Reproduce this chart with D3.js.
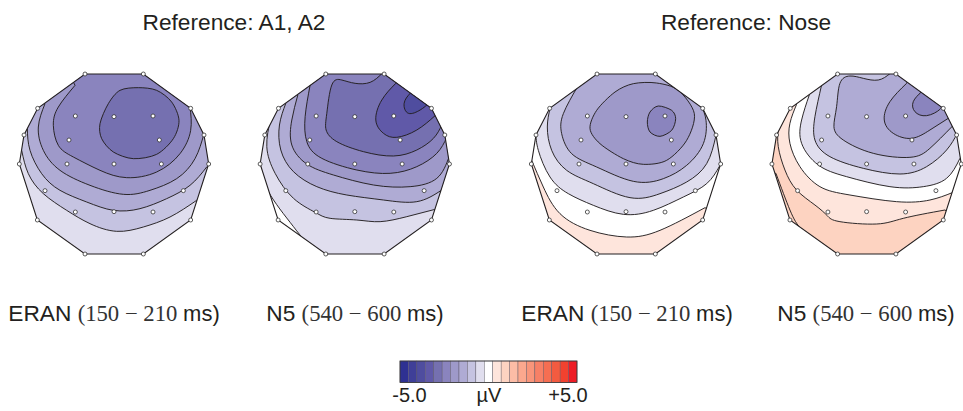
<!DOCTYPE html>
<html><head><meta charset="utf-8">
<script src="https://cdn.jsdelivr.net/npm/d3@7"></script>
<style>html,body{margin:0;padding:0;background:#fff}svg{display:block}</style>
</head><body><svg id="c" width="963" height="411"></svg>
<script>
// Colour legend: 21 classes from -5.0 to +5.0 uV
const legendColors = ["#2e3192","#3f3f98","#4f4d9f","#6059a8","#7570b0","#8a84be","#9e99c9","#afabd4","#c5c3e1","#e0deee","#ffffff","#fee5dc","#fdd3c1","#fcbca6","#fca88e","#f9957a","#f78066","#f66e52","#f35b40","#f1422f","#ee1c25"];
const legendLabels = ["-5.0","\u00b5V","+5.0"];
const titles = ["Reference: A1, A2","Reference: Nose"];
const mapNames = ["ERAN","N5","ERAN","N5"];
const mapTimes = ["(150 \u2212 210","(540 \u2212 600","(150 \u2212 210","(540 \u2212 600"];

// Electrode positions in head coordinates
const electrodes = [[-87,-270],[88,-270],[-229,-167],[-116,-144],[0,-142],[117,-144],[230,-167],[-270,-87],[-135,-72],[136,-72],[270,-87],[-284,0],[-141,0],[0,0],[142,0],[284,0],[-207,80],[208,80],[-230,168],[-116,144],[0,143],[117,144],[230,168],[-87,270],[88,270]];
const headOutline = [[-87,-270],[88,-270],[230,-167],[270,-87],[284,0],[230,168],[88,270],[-87,270],[-230,168],[-284,0],[-270,-87],[-229,-167]];

// Isopotential contours (origin = head centre in the reading grid)
const origins = [[342,341],[314,342],[348,341],[350,342]];
const baseLevels = [-0.5, 0, 0.5, 1];
const contourLevels1 = [-1,-1.5,-2,-2.5,-3];
const contours1 = [
 [[65,300],[85,370],[130,430],[200,480],[270,520],[350,543],[430,530],[510,500],[590,450]],
 [[82,235],[90,300],[125,370],[180,420],[260,455],[340,480],[420,475],[500,445],[570,405],[620,350]],
 [[135,160],[115,230],[130,300],[180,360],[270,405],[370,432],[450,420],[530,385],[585,325],[612,250]],
 [[225,105],[175,170],[160,225],[175,285],[220,320],[300,360],[380,382],[470,365],[540,310],[572,240],[570,170]],
 [[415,112],[360,120],[325,160],[300,220],[305,265],[340,305],[400,325],[470,312],[520,265],[537,210],[515,155],[470,120],[415,112]]
];
const contourLevels2 = [-0.5,-1,-1.5,-2,-2.5,-3,-3.5,-4];
const contours2 = [
 [[30,340],[55,425],[130,530],[225,620],[420,650],[650,500]],
 [[62,205],[50,290],[75,370],[130,445],[195,487],[240,505],[320,510],[390,515],[470,500],[555,478]],
 [[107,160],[88,225],[92,300],[130,365],[200,410],[290,435],[400,450],[500,455],[575,420]],
 [[143,135],[125,210],[125,285],[170,342],[250,375],[370,405],[480,410],[560,385],[597,320]],
 [[180,105],[165,200],[170,275],[215,325],[320,360],[420,370],[500,350],[560,310],[590,262]],
 [[395,71],[360,97],[315,100],[275,90],[245,105],[230,190],[228,240],[260,275],[340,305],[430,318],[500,300],[550,265],[575,225]],
 [[437,100],[395,150],[377,210],[400,250],[440,262],[500,240],[555,197]],
 [[480,130],[462,160],[475,190],[510,180],[530,165]]
];
const contourLevels3 = [0,-0.5,-1,-1.5,-2,-2.5];
const contours3 = [
 [[65,330],[100,410],[150,490],[240,540],[350,560],[450,540],[585,472]],
 [[78,250],[85,300],[120,380],[175,430],[250,465],[340,492],[430,480],[520,440],[590,400],[630,345]],
 [[120,175],[112,230],[125,300],[170,360],[250,400],[360,442],[450,430],[530,395],[590,340],[618,255]],
 [[205,105],[160,190],[155,250],[185,310],[260,350],[370,393],[460,385],[530,345],[580,280],[588,210],[575,170]],
 [[505,120],[440,98],[370,100],[315,125],[260,180],[240,235],[270,280],[340,325],[400,342],[470,330],[530,270],[553,190],[505,120]],
 [[445,167],[420,185],[412,215],[420,245],[450,258],[485,240],[497,205],[485,180],[445,167]]
];
const contourLevels4 = [1,0.5,0,-0.5,-1,-1.5,-2,-2.5];
const contours4 = [
 [[78,370],[120,480],[160,545],[262,625],[440,650],[650,500]],
 [[85,235],[85,290],[105,360],[140,420],[195,465],[232,497],[270,515],[380,522],[460,505],[585,480]],
 [[140,163],[120,220],[120,280],[150,350],[210,410],[300,435],[440,455],[540,450],[607,428]],
 [[178,135],[155,210],[155,280],[205,345],[290,380],[420,410],[520,410],[590,385],[630,325]],
 [[215,105],[195,200],[195,270],[240,320],[340,355],[450,372],[530,350],[590,300],[622,250]],
 [[420,71],[385,90],[340,85],[300,78],[270,100],[260,170],[252,230],[280,270],[370,310],[480,322],[540,295],[608,228]],
 [[470,100],[420,155],[403,210],[430,250],[485,265],[540,240],[595,205]],
 [[515,125],[490,155],[495,185],[530,197],[570,178],[572,160]]
];
const allContours = [contours1,contours2,contours3,contours4];
const allLevels = [contourLevels1,contourLevels2,contourLevels3,contourLevels4];

// Layout
const mapCx = [114,354.8,626,866.6], mapCy = 164;
const titleX = [234,746], titleY = 30;
const labelX = [114,355,627,866], labelY = 321;

const color = d3.scaleQuantize().domain([-5.25,5.25]).range(legendColors);
const svg = d3.select("#c");
const sans = "'Liberation Sans',Arial,sans-serif", serif = "'Liberation Serif',serif";
const ink = "#231f20";

svg.selectAll("text.title").data(titles).join("text").attr("class","title")
  .attr("x",(d,i)=>titleX[i]).attr("y",titleY).attr("text-anchor","middle")
  .attr("font-family",sans).attr("font-size",22.7).attr("fill",ink).text(d=>d);

allContours.forEach((contours,m)=>{
  const [ox,oy] = origins[m];
  const sx = d3.scaleLinear().domain([-300,300]).range([mapCx[m]-100,mapCx[m]+100]);
  const sy = d3.scaleLinear().domain([-300,300]).range([mapCy-100,mapCy+100]);
  const hx = d=>sx(d[0]), hy = d=>sy(d[1]);
  const g = svg.append("g");
  const outlinePath = d3.line().x(hx).y(hy).curve(d3.curveLinearClosed)(headOutline);
  g.append("clipPath").attr("id","clip"+m).append("path").attr("d",outlinePath);
  const body = g.append("g").attr("clip-path",`url(#clip${m})`);
  // base level; map 2's base is its first contour, so the sliver stays white
  body.append("path").attr("d",outlinePath).attr("fill",color(baseLevels[m]));
  const openLine = d3.line().x(d=>sx(d[0]-ox)).y(d=>sy(d[1]-oy)).curve(d3.curveNatural);
  const closedLine = d3.line().x(d=>sx(d[0]-ox)).y(d=>sy(d[1]-oy)).curve(d3.curveCardinalClosed.tension(0.1));
  contours.forEach((pts,k)=>{
    const first = pts[0], last = pts[pts.length-1];
    const closed = first[0]===last[0] && first[1]===last[1];
    let dstr;
    if(closed){ dstr = closedLine(pts.slice(0,-1)); }
    else{
      const out = p=>{const x=p[0]-ox,y=p[1]-oy; return [sx(x*2.2),sy(y*2.2)];};
      const a = out(first), b = out(last);
      dstr = openLine(pts)+`L${b[0]},${b[1]}L${sx(900)},${sy(-900)}L${sx(-900)},${sy(-900)}L${a[0]},${a[1]}Z`;
    }
    body.append("path").attr("d",dstr).attr("fill",color(allLevels[m][k]))
      .attr("stroke",ink).attr("stroke-width",0.95).attr("stroke-linejoin","round");
  });
  g.append("path").attr("d",outlinePath).attr("fill","none").attr("stroke",ink).attr("stroke-width",1.1);
  g.selectAll("circle").data(electrodes).join("circle")
    .attr("cx",hx).attr("cy",hy).attr("r",2).attr("fill","#fff").attr("stroke","#333").attr("stroke-width",0.8);
});

mapNames.forEach((n,i)=>{
  const t = svg.append("text").attr("x",labelX[i]).attr("y",labelY).attr("text-anchor","middle")
    .attr("font-size",22.7).attr("fill",ink);
  t.append("tspan").attr("font-family",sans).text(n+" ");
  t.append("tspan").attr("font-family",serif).attr("fill","#333").text(mapTimes[i]+" ");
  t.append("tspan").attr("font-family",sans).attr("font-size",22).text("ms)");
});

// Colour bar
const band = d3.scaleBand().domain(d3.range(legendColors.length)).range([400,577]).padding(0);
const bar = svg.append("g");
bar.selectAll("rect").data(legendColors).join("rect")
  .attr("x",(d,i)=>band(i)).attr("y",361).attr("width",band.bandwidth()).attr("height",21.5)
  .attr("fill",d=>d).attr("stroke","#55525f").attr("stroke-width",0.4);
bar.append("rect").attr("x",400).attr("y",361).attr("width",177).attr("height",21.5)
  .attr("fill","none").attr("stroke","#333").attr("stroke-width",0.8);
const legendX = [409.5,489,568];
svg.selectAll("text.leg").data(legendLabels).join("text").attr("class","leg")
  .attr("x",(d,i)=>legendX[i]).attr("y",402).attr("text-anchor","middle")
  .attr("font-family",sans).attr("font-size",20).attr("fill",ink).text(d=>d);
</script></body></html>
